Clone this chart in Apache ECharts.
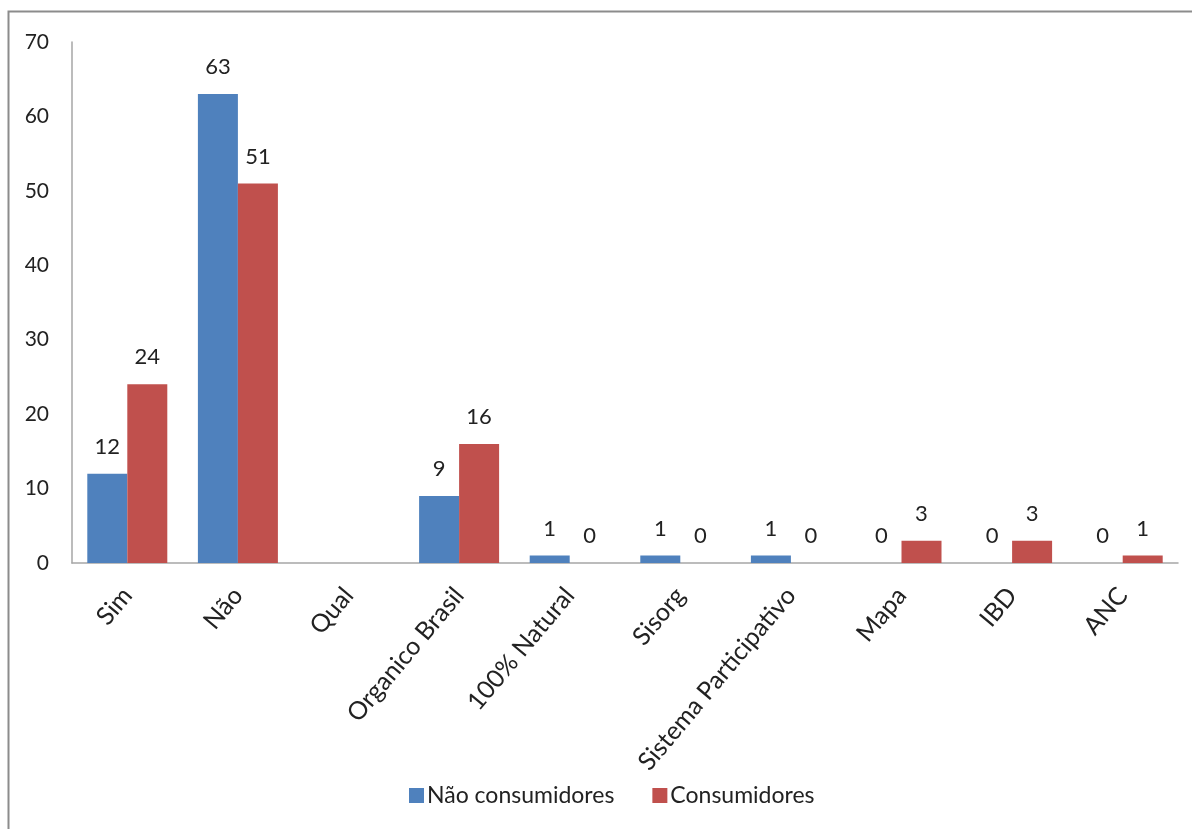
<!DOCTYPE html>
<html>
<head>
<meta charset="utf-8">
<script src="https://cdn.jsdelivr.net/npm/echarts@6/dist/echarts.min.js"></script>
<style>
  html, body { margin: 0; padding: 0; background: #fff; }
  #chart { width: 1192px; height: 829px; }
</style>
</head>
<body>
<div id="chart"></div>
<script>
// Categories and the two respondent groups
const categories = ['Sim', 'Não', 'Qual', 'Organico Brasil', '100% Natural', 'Sisorg', 'Sistema Participativo', 'Mapa', 'IBD', 'ANC'];
const naoConsumidores = [12, 63, null, 9, 1, 1, 1, 0, 0, 0];
const consumidores = [24, 51, null, 16, 0, 0, 0, 3, 3, 1];
const seriesNames = ['Não consumidores', 'Consumidores'];
const yTicks = { min: 0, max: 70, interval: 10 };

const FONT = 'Lato, "Open Sans", sans-serif';
const TEXT = '#222222';

const chart = echarts.init(document.getElementById('chart'), null, { renderer: 'canvas' });

const labelStyle = {
  show: true,
  position: 'top',
  distance: 16,
  fontFamily: FONT,
  fontSize: 22,
  color: TEXT
};

chart.setOption({
  backgroundColor: '#ffffff',
  animation: false,
  graphic: [{
    type: 'rect',
    shape: { x: 8.5, y: 11.5, width: 1300, height: 1000 },
    style: { fill: 'none', stroke: '#8c8c8c', lineWidth: 2 },
    silent: true
  }],
  grid: { left: 72, right: 14, top: 42, bottom: 266, containLabel: false },
  legend: {
    bottom: 17,
    left: 404,
    itemWidth: 15,
    itemHeight: 15,
    itemGap: 38,
    icon: 'rect',
    textStyle: { fontFamily: FONT, fontSize: 23, color: TEXT, padding: [0, 0, 0, -2] },
    data: seriesNames
  },
  xAxis: {
    type: 'category',
    data: categories,
    axisLine: { lineStyle: { color: '#a6a6a6', width: 1.5 } },
    axisTick: { show: false },
    axisLabel: {
      interval: 0,
      rotate: 50,
      margin: 28,
      fontFamily: FONT,
      fontSize: 25,
      color: TEXT
    }
  },
  yAxis: {
    type: 'value',
    min: yTicks.min,
    max: yTicks.max,
    interval: yTicks.interval,
    axisLine: { show: true, lineStyle: { color: '#a6a6a6', width: 1.5 } },
    axisTick: { show: false },
    splitLine: { show: false },
    axisLabel: {
      margin: 23,
      fontFamily: FONT,
      fontSize: 21,
      color: TEXT
    }
  },
  series: [
    {
      name: seriesNames[0],
      type: 'bar',
      data: naoConsumidores,
      barWidth: 40,
      barGap: '0%',
      itemStyle: { color: '#4f81bd' },
      label: labelStyle
    },
    {
      name: seriesNames[1],
      type: 'bar',
      data: consumidores,
      barWidth: 40,
      barGap: '0%',
      itemStyle: { color: '#c0504d' },
      label: labelStyle
    }
  ]
});
</script>
</body>
</html>
